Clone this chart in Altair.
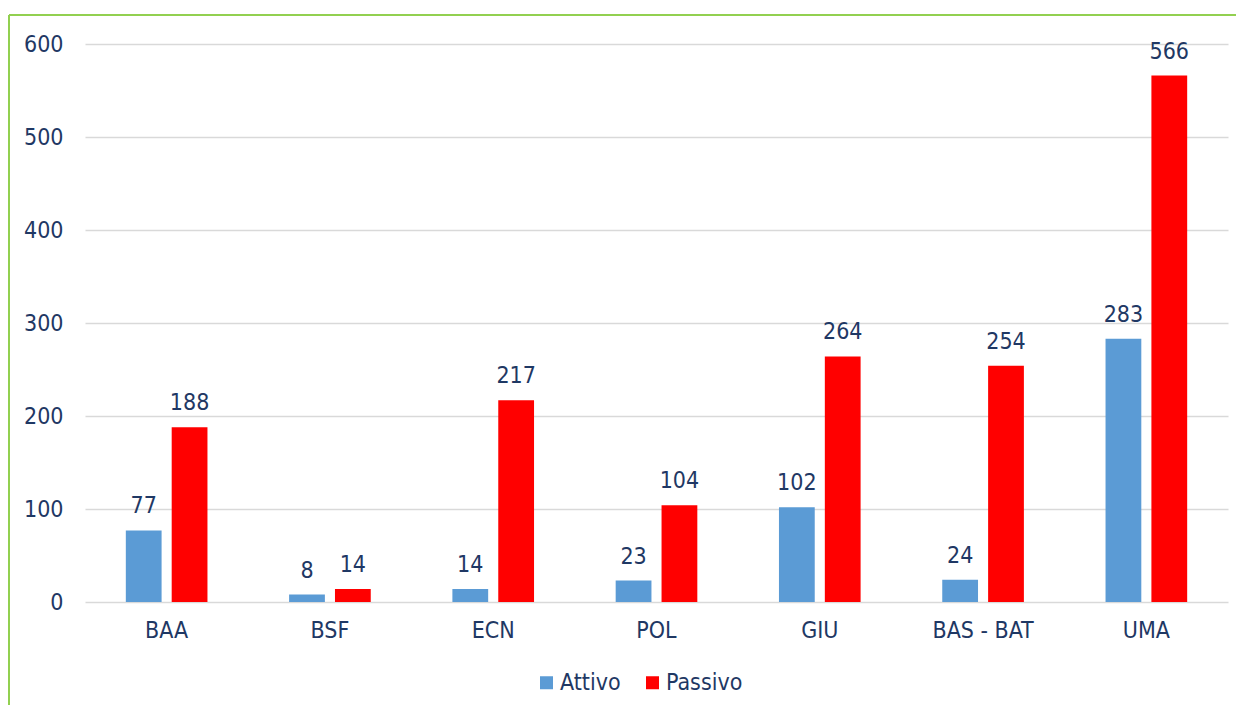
import altair as alt
import pandas as pd

categories = ["BAA", "BSF", "ECN", "POL", "GIU", "BAS - BAT", "UMA"]
attivo = [77, 8, 14, 23, 102, 24, 283]
passivo = [188, 14, 217, 104, 264, 254, 566]
series = ["Attivo", "Passivo"]
colors = ["#5B9BD5", "#FF0000"]
y_ticks = [0, 100, 200, 300, 400, 500, 600]

rows = []
for c, a, p in zip(categories, attivo, passivo):
    rows.append({"cat": c, "serie": "Attivo", "val": a})
    rows.append({"cat": c, "serie": "Passivo", "val": p})
df = pd.DataFrame(rows)

FONT = "DejaVu Sans Condensed, DejaVu Sans"
FS = 23
TXT = "#1F3864"
GREEN = "#92D050"

x = alt.X("cat:N", sort=categories, title=None,
          scale=alt.Scale(paddingInner=0.5, paddingOuter=0.25),
          axis=alt.Axis(labelAngle=0, ticks=False, domain=False, labelFont=FONT,
                        labelFontSize=FS, labelColor=TXT, labelPadding=17))
xo = alt.XOffset("serie:N", sort=series,
                 scale=alt.Scale(paddingInner=0.22, paddingOuter=0))
y = alt.Y("val:Q", title=None,
          scale=alt.Scale(domain=[0, 600], nice=False),
          axis=alt.Axis(values=y_ticks, ticks=False, domain=False, labelFont=FONT,
                        labelFontSize=FS, labelColor=TXT, labelPadding=22,
                        gridColor="#D9D9D9", gridWidth=1.5))

base = alt.Chart(df).encode(x=x, xOffset=xo)

bars = base.mark_bar().encode(
    y=y,
    color=alt.Color("serie:N", sort=series, title=None,
                    scale=alt.Scale(domain=series, range=colors),
                    legend=alt.Legend(orient="none", legendX=450, legendY=627,
                                      direction="horizontal", symbolType="square",
                                      symbolSize=169, symbolStrokeWidth=0,
                                      labelFont=FONT, labelFontSize=FS,
                                      labelColor=TXT, labelOffset=2,
                                      columnPadding=20)),
)

labels = base.mark_text(baseline="alphabetic", dy=-17, font=FONT, fontSize=FS,
                        color=TXT).encode(y="val:Q", text="val:Q")

border_df = pd.DataFrame({"k": [0]})
top_line = alt.Chart(border_df).mark_rule(color=GREEN, strokeWidth=2).encode(
    x=alt.value(-76), x2=alt.value(1200), y=alt.value(-29))
left_line = alt.Chart(border_df).mark_rule(color=GREEN, strokeWidth=2).encode(
    x=alt.value(-76), y=alt.value(-29), y2=alt.value(700))

chart = alt.layer(bars, labels, top_line, left_line).properties(
    width=1143, height=558,
    autosize=alt.AutoSizeParams(type="none"),
    padding={"left": 77, "top": 36, "right": 8, "bottom": 103},
).configure_view(stroke=None)

chart.save("out.html", embed_options={"renderer": "svg", "actions": False})
